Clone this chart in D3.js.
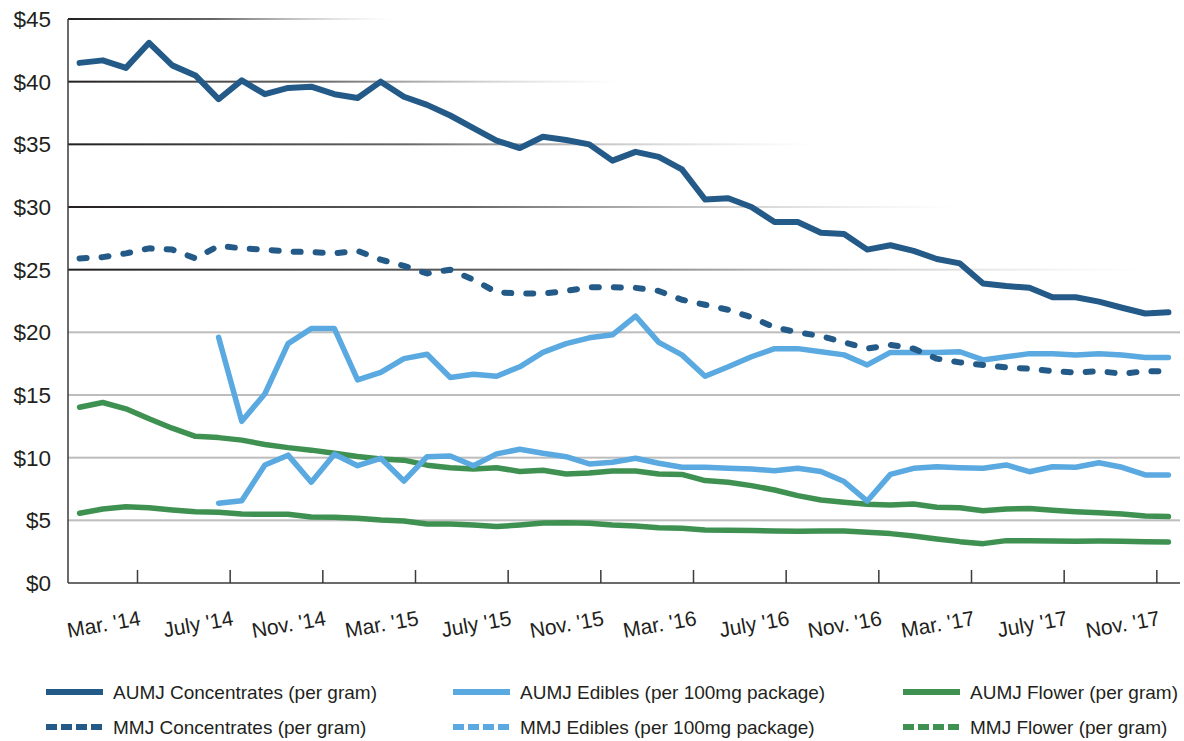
<!DOCTYPE html>
<html>
<head>
<meta charset="utf-8">
<script src="https://cdn.jsdelivr.net/npm/d3@7"></script>
<style>
  body { margin: 0; background: #fff; }
  text { font-family: "Liberation Sans", Arial, sans-serif; fill: #231f20; }
</style>
</head>
<body>
<div id="chart"></div>
<script>
'use strict';

// months Jan 2014 .. Dec 2017
const months = d3.timeMonths(new Date(2014, 0, 1), new Date(2018, 0, 1));
const monthKey = d3.timeFormat('%Y-%m');

const tickMonths = ['2014-03', '2014-07', '2014-11', '2015-03', '2015-07', '2015-11',
                    '2016-03', '2016-07', '2016-11', '2017-03', '2017-07', '2017-11'];
const tickLabels = ["Mar. '14", "July '14", "Nov. '14", "Mar. '15", "July '15", "Nov. '15",
                    "Mar. '16", "July '16", "Nov. '16", "Mar. '17", "July '17", "Nov. '17"];
const yTicks = [0, 5, 10, 15, 20, 25, 30, 35, 40, 45];

const aumjConcentrates = [41.5, 41.7, 41.1, 43.1, 41.3, 40.5, 38.6, 40.1, 39.0, 39.5,
  39.6, 39.0, 38.7, 40.0, 38.8, 38.15, 37.3, 36.3, 35.3, 34.7,
  35.6, 35.35, 35.0, 33.7, 34.4, 34.0, 33.0, 30.6, 30.7, 30.0,
  28.8, 28.8, 27.95, 27.85, 26.6, 26.95, 26.5, 25.85, 25.5, 23.9,
  23.7, 23.55, 22.8, 22.8, 22.45, 21.96, 21.5, 21.6];

const mmjConcentrates = [25.9, 26.0, 26.3, 26.7, 26.6, 25.9, 26.9, 26.7, 26.6, 26.45,
  26.4, 26.3, 26.5, 25.8, 25.3, 24.7, 25.0, 24.2, 23.2, 23.1,
  23.1, 23.3, 23.6, 23.6, 23.55, 23.3, 22.6, 22.2, 21.8, 21.2,
  20.4, 20.0, 19.7, 19.2, 18.7, 19.0, 18.7, 17.9, 17.6, 17.4,
  17.2, 17.1, 16.9, 16.8, 16.9, 16.7, 16.9, 16.9];

const aumjEdibles = [null, null, null, null, null, null, 19.6, 12.9, 15.1, 19.1,
  20.3, 20.3, 16.2, 16.8, 17.9, 18.25, 16.4, 16.65, 16.5, 17.25,
  18.4, 19.1, 19.56, 19.8, 21.3, 19.2, 18.2, 16.5, 17.25, 18.05,
  18.7, 18.7, 18.45, 18.2, 17.4, 18.4, 18.4, 18.4, 18.45, 17.8,
  18.05, 18.3, 18.3, 18.2, 18.3, 18.2, 18.0, 18.0];

const mmjEdibles = [null, null, null, null, null, null, 6.36, 6.57, 9.42, 10.2,
  8.04, 10.27, 9.36, 9.95, 8.14, 10.08, 10.14, 9.36, 10.3, 10.67,
  10.35, 10.08, 9.5, 9.63, 9.95, 9.55, 9.23, 9.23, 9.15, 9.1,
  8.96, 9.15, 8.9, 8.09, 6.54, 8.67, 9.15, 9.28, 9.2, 9.15,
  9.42, 8.88, 9.28, 9.23, 9.6, 9.23, 8.62, 8.62];

const aumjFlower = [14.02, 14.4, 13.9, 13.1, 12.35, 11.7, 11.6, 11.4, 11.05, 10.8,
  10.6, 10.35, 10.1, 9.9, 9.8, 9.4, 9.2, 9.1, 9.2, 8.9,
  9.0, 8.7, 8.77, 8.94, 8.94, 8.7, 8.66, 8.17, 8.04, 7.77,
  7.42, 6.97, 6.62, 6.44, 6.28, 6.23, 6.3, 6.04, 6.0, 5.77,
  5.9, 5.95, 5.8, 5.69, 5.6, 5.5, 5.35, 5.3];

const mmjFlower = [5.56, 5.9, 6.09, 6.0, 5.83, 5.69, 5.64, 5.5, 5.48, 5.48,
  5.27, 5.25, 5.16, 5.03, 4.95, 4.71, 4.71, 4.63, 4.5, 4.63,
  4.79, 4.81, 4.77, 4.63, 4.55, 4.41, 4.36, 4.23, 4.2, 4.18,
  4.15, 4.13, 4.15, 4.15, 4.05, 3.94, 3.75, 3.51, 3.3, 3.14,
  3.38, 3.38, 3.35, 3.33, 3.35, 3.33, 3.3, 3.28];

const seriesNames = ['AUMJ Concentrates (per gram)', 'AUMJ Edibles (per 100mg package)', 'AUMJ Flower (per gram)',
                     'MMJ Concentrates (per gram)', 'MMJ Edibles (per 100mg package)', 'MMJ Flower (per gram)'];

const darkBlue = '#245a88';
const lightBlue = '#5aa9e0';
const green = '#3f9152';

// draw order: flower, edibles, concentrates (later ones on top)
const series = [
  { name: seriesNames[5], values: mmjFlower, color: green, dashed: false, legendDash: true },
  { name: seriesNames[2], values: aumjFlower, color: green, dashed: false, legendDash: false },
  { name: seriesNames[4], values: mmjEdibles, color: lightBlue, dashed: false, legendDash: true },
  { name: seriesNames[1], values: aumjEdibles, color: lightBlue, dashed: false, legendDash: false },
  { name: seriesNames[3], values: mmjConcentrates, color: darkBlue, dashed: true, legendDash: true },
  { name: seriesNames[0], values: aumjConcentrates, color: darkBlue, dashed: false, legendDash: false }
];

const width = 1184;
const height = 741;
const plotLeft = 68, plotRight = 1180, plotTop = 19, plotBottom = 583;

const svg = d3.select('#chart')
  .append('svg')
  .attr('width', width)
  .attr('height', height);

const x = d3.scaleBand()
  .domain(months.map(monthKey))
  .range([plotLeft, plotRight])
  .padding(0);

const y = d3.scaleLinear()
  .domain([0, 45])
  .range([plotBottom, plotTop]);

const cx = (k) => x(k) + x.bandwidth() / 2;

// gridlines: upper ones fade out towards the right
const defs = svg.append('defs');
const fadeEnd = { 25: 1147, 30: 957, 35: 817, 40: 622, 45: 392 };

yTicks.filter(t => t > 0).forEach(t => {
  let stroke = '#bdbdbd';
  let x2 = plotRight;
  if (fadeEnd[t]) {
    x2 = fadeEnd[t];
    const id = 'fade' + t;
    const g = defs.append('linearGradient')
      .attr('id', id)
      .attr('gradientUnits', 'userSpaceOnUse')
      .attr('x1', plotLeft).attr('x2', x2)
      .attr('y1', 0).attr('y2', 0);
    g.append('stop').attr('offset', 0).attr('stop-color', '#231f20').attr('stop-opacity', 1);
    g.append('stop').attr('offset', 0.45).attr('stop-color', '#555').attr('stop-opacity', 0.9);
    g.append('stop').attr('offset', 1).attr('stop-color', '#bbb').attr('stop-opacity', 0);
    stroke = `url(#${id})`;
  }
  svg.append('rect')
    .attr('x', plotLeft)
    .attr('y', y(t) - 1)
    .attr('width', x2 - plotLeft)
    .attr('height', 2)
    .attr('fill', stroke);
});

// y labels
svg.append('g')
  .selectAll('text')
  .data(yTicks)
  .enter()
  .append('text')
  .attr('x', 51)
  .attr('y', d => y(d))
  .attr('dy', '0.36em')
  .attr('text-anchor', 'end')
  .attr('font-size', 22.5)
  .text(d => '$' + d);

// axes lines
svg.append('line')
  .attr('x1', plotLeft).attr('x2', plotLeft)
  .attr('y1', plotTop).attr('y2', plotBottom)
  .attr('stroke', '#3a3a3a').attr('stroke-width', 1.5);
svg.append('line')
  .attr('x1', plotLeft).attr('x2', plotRight)
  .attr('y1', plotBottom).attr('y2', plotBottom)
  .attr('stroke', '#3a3a3a').attr('stroke-width', 1.5);

// x ticks at the boundary after each label month
const tickX = (k) => x(k) + x.bandwidth();
svg.append('g')
  .selectAll('line')
  .data(tickMonths)
  .enter()
  .append('line')
  .attr('x1', tickX).attr('x2', tickX)
  .attr('y1', plotBottom - 13).attr('y2', plotBottom)
  .attr('stroke', '#3a3a3a').attr('stroke-width', 1.5);

svg.append('g')
  .selectAll('text')
  .data(tickMonths)
  .enter()
  .append('text')
  .attr('transform', d => `translate(${tickX(d) + 4},${625}) rotate(-10)`)
  .attr('text-anchor', 'end')
  .attr('font-size', 21)
  .text((d, i) => tickLabels[i]);

// lines
const line = d3.line()
  .defined(d => d.v != null)
  .x(d => cx(d.k))
  .y(d => y(d.v));

svg.append('g')
  .selectAll('path')
  .data(series)
  .enter()
  .append('path')
  .attr('d', s => line(s.values.map((v, i) => ({ k: monthKey(months[i]), v }))))
  .attr('fill', 'none')
  .attr('stroke', s => s.color)
  .attr('stroke-width', s => s.color === darkBlue ? 6 : 5.5)
  .attr('stroke-linejoin', 'round')
  .attr('stroke-linecap', 'round')
  .attr('stroke-dasharray', s => s.dashed ? '7,15' : null);

// legend
const legendOrder = [5, 3, 1, 4, 2, 0];
const colX = [46, 453, 903];
const rowY = [692, 727];
const legend = svg.append('g')
  .selectAll('g')
  .data(legendOrder.map(i => series[i]))
  .enter()
  .append('g')
  .attr('transform', (d, i) => `translate(${colX[i % 3]},${rowY[Math.floor(i / 3)]})`);

legend.append('line')
  .attr('x1', 0).attr('x2', 57)
  .attr('y1', 0).attr('y2', 0)
  .attr('stroke', d => d.color)
  .attr('stroke-width', 6)
  .attr('stroke-dasharray', d => d.legendDash ? '11,4' : null);

legend.append('text')
  .attr('x', 67)
  .attr('y', 0)
  .attr('dy', '0.36em')
  .attr('font-size', 19)
  .text(d => d.name);
</script>
</body>
</html>
